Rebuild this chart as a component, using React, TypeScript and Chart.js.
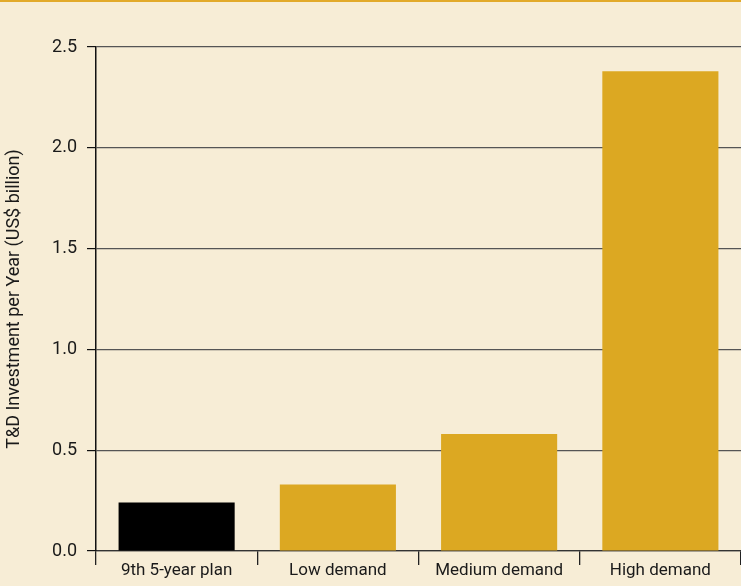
import React, { useEffect, useRef } from "react";
import { Chart, registerables } from "chart.js";

Chart.register(...registerables);

const categories = ["9th 5-year plan", "Low demand", "Medium demand", "High demand"];
const investment = [0.24, 0.33, 0.58, 2.38];
const barColors = ["#000000", "#DCA822", "#DCA822", "#DCA822"];
const yTicks = [0, 0.5, 1.0, 1.5, 2.0, 2.5];

const FONT = "Roboto, 'Noto Sans', sans-serif";
const BG = "#F7EDD6";
const TOP_RULE = "#E2AA2A";

// Fills the page colour and draws the thin rule along the top edge.
const backdrop = {
  id: "backdrop",
  beforeDraw(chart: Chart) {
    const { ctx, width, height } = chart;
    ctx.save();
    ctx.fillStyle = BG;
    ctx.fillRect(0, 0, width, height);
    ctx.fillStyle = TOP_RULE;
    ctx.fillRect(0, 0, width, 2);
    ctx.restore();
  },
};

export default function App() {
  const ref = useRef<HTMLCanvasElement | null>(null);

  useEffect(() => {
    document.body.style.margin = "0";
    const canvas = ref.current;
    if (!canvas) return;
    const chart = new Chart(canvas, {
      type: "bar",
      data: {
        labels: categories,
        datasets: [
          {
            data: investment,
            backgroundColor: barColors,
            borderWidth: 0,
            categoryPercentage: 0.72,
            barPercentage: 1,
          },
        ],
      },
      options: {
        animation: false,
        responsive: false,
        maintainAspectRatio: false,
        layout: { padding: { top: 47, right: 0, bottom: 0, left: 0 } },
        plugins: {
          legend: { display: false },
          tooltip: { enabled: false },
        },
        scales: {
          x: {
            grid: {
              drawOnChartArea: false,
              drawTicks: true,
              tickLength: 14,
              color: "#222",
              lineWidth: 1.3,
              offset: true,
            },
            border: { display: true, color: "#333", width: 1.3 },
            ticks: {
              color: "#1a1a1a",
              font: { family: FONT, size: 17 },
              padding: -4,
              maxRotation: 0,
            },
            afterFit(scale: any) {
              scale.height = 35;
            },
          },
          y: {
            min: 0,
            max: 2.5,
            afterBuildTicks(scale: any) {
              scale.ticks = yTicks.map((v) => ({ value: v }));
            },
            grid: {
              color: "#555",
              lineWidth: 1.2,
              tickLength: 9,
              tickColor: "#111",
            },
            border: { display: true, color: "#111", width: 1.5 },
            ticks: {
              color: "#1a1a1a",
              font: { family: FONT, size: 18 },
              padding: 10,
              callback: (v: any) => Number(v).toFixed(1),
            },
            title: {
              display: true,
              text: "T&D Investment per Year (US$ billion)",
              color: "#1a1a1a",
              font: { family: FONT, size: 18 },
              padding: { top: 4, bottom: 0 },
            },
            afterFit(scale: any) {
              scale.width = 96;
            },
          },
        },
      },
      plugins: [backdrop],
    });
    return () => chart.destroy();
  }, []);

  return (
    <div style={{ width: 741, height: 586, background: BG }}>
      <canvas ref={ref} width={741} height={586} style={{ display: "block" }} />
    </div>
  );
}
